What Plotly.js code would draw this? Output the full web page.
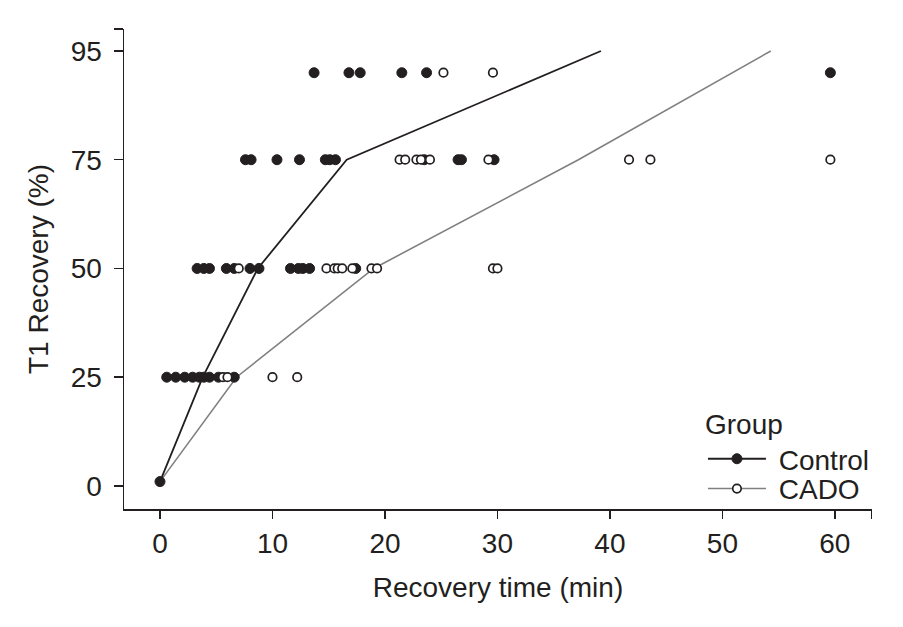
<!DOCTYPE html>
<html>
<head>
<meta charset="utf-8">
<script src="https://cdn.plot.ly/plotly-3.0.1.min.js"></script>
<style>html,body{margin:0;padding:0;background:#fff;}#chart{width:903px;height:627px;}</style>
</head>
<body>
<div id="chart"></div>
<script>
// Recovery time (min) at each T1 recovery level
const ctrl0  = [0];
const ctrl25 = [0.6, 1.4, 2.2, 2.9, 3.5, 3.9, 4.4, 5.2, 6.6];
const cado25 = [5.6, 6.0, 10.0, 12.2];
const ctrl50 = [3.3, 3.9, 4.4, 5.9, 6.6, 8.0, 8.8, 11.6, 12.3, 12.7, 13.3, 17.4];
const cado50 = [7.0, 14.8, 15.5, 15.8, 16.2, 17.1, 18.8, 19.3, 29.6, 30.0];
const ctrl75 = [7.6, 8.1, 10.4, 12.4, 14.7, 15.1, 15.6, 23.5, 26.5, 26.8, 29.7];
const cado75 = [21.3, 21.8, 22.8, 23.2, 24.0, 29.2, 41.7, 43.6, 59.6];
const ctrl95 = [13.7, 16.8, 17.8, 21.5, 23.7, 59.6];
const cado95 = [25.2, 29.6];
const level0 = 1, level25 = 25, level50 = 50, level75 = 75, level95 = 95;

// Fitted curves
const ctrlLineX = [0, 3.8, 8.7, 16.6, 39.2];
const ctrlLineY = [1, 25, 50, 75, 100];
const cadoLineX = [0, 6.8, 19.0, 37.2, 54.3];
const cadoLineY = [1, 25, 50, 75, 100];

// Axis ticks
const xTickVals = [0, 10, 20, 30, 40, 50, 60, 63.25];
const xTickText = ['0', '10', '20', '30', '40', '50', '60', ''];
const yTickVals = [0, 25, 50, 75, 100, 105];
const yTickText = ['0', '25', '50', '75', '95', ''];

// Legend labels
const groupTitle = 'Group';
const seriesNames = ['\u00a0Control', '\u00a0CADO'];

const DARK = '#231f20';
const GRAY = '#808080';

function expand(xs, level) { return {x: xs, y: xs.map(() => level)}; }
function concat(parts) {
  const out = {x: [], y: []};
  parts.forEach(p => { out.x.push(...p.x); out.y.push(...p.y); });
  return out;
}
const ctrlPts = concat([expand(ctrl0, level0), expand(ctrl25, level25), expand(ctrl50, level50), expand(ctrl75, level75), expand(ctrl95, level95)]);
const cadoPts = concat([expand(cado25, level25), expand(cado50, level50), expand(cado75, level75), expand(cado95, level95)]);

const ctrlMarker = {symbol: 'circle', size: 10, color: DARK, line: {color: DARK, width: 1}};
const cadoMarker = {symbol: 'circle', size: 8.5, color: '#ffffff', line: {color: DARK, width: 1.7}};

const traces = [
  {x: cadoLineX, y: cadoLineY, mode: 'lines', line: {color: GRAY, width: 1.6}, showlegend: false, hoverinfo: 'skip'},
  {x: ctrlLineX, y: ctrlLineY, mode: 'lines', line: {color: DARK, width: 1.8}, showlegend: false, hoverinfo: 'skip'},
  {x: ctrlPts.x, y: ctrlPts.y, mode: 'markers', marker: ctrlMarker, showlegend: false},
  {x: cadoPts.x, y: cadoPts.y, mode: 'markers', marker: cadoMarker, showlegend: false},
  {x: [null], y: [null], mode: 'lines+markers', name: seriesNames[0], legend: 'legend', line: {color: DARK, width: 1.8}, marker: ctrlMarker},
  {x: [null], y: [null], mode: 'lines+markers', name: seriesNames[1], legend: 'legend2', line: {color: GRAY, width: 1.6}, marker: cadoMarker}
];

const font = {family: 'Liberation Sans, Arial, sans-serif', size: 28, color: '#231f20'};

const layout = {
  width: 903, height: 627,
  margin: {l: 124, r: 31, t: 29, b: 118},
  paper_bgcolor: '#ffffff', plot_bgcolor: '#ffffff',
  font: font,
  showlegend: true,
  xaxis: {
    range: [-3.2, 63.3], showgrid: false, zeroline: false,
    showline: true, linecolor: DARK, linewidth: 1.5,
    ticks: 'outside', ticklen: 8, tickwidth: 1.5, tickcolor: DARK,
    tickmode: 'array', tickvals: xTickVals, ticktext: xTickText,
    tickfont: font, ticklabelstandoff: 1,
    title: {text: 'Recovery time (min)', font: font, standoff: 19}
  },
  yaxis: {
    range: [-5.3, 105.05], showgrid: false, zeroline: false,
    showline: true, linecolor: DARK, linewidth: 1.5,
    ticks: 'outside', ticklen: 9, tickwidth: 1.5, tickcolor: DARK,
    tickmode: 'array', tickvals: yTickVals, ticktext: yTickText,
    tickfont: font, ticklabelstandoff: 6,
    title: {text: 'T1 Recovery (%)', font: font, standoff: 14}
  },
  legend: {
    x: 0.774, y: 0.232, xanchor: 'left', yanchor: 'top',
    bgcolor: 'rgba(0,0,0,0)', borderwidth: 0,
    title: {text: groupTitle, font: font},
    font: font, itemwidth: 58
  },
  legend2: {
    x: 0.774, y: 0.042, xanchor: 'left', yanchor: 'middle',
    bgcolor: 'rgba(0,0,0,0)', borderwidth: 0,
    font: font, itemwidth: 58
  }
};

Plotly.newPlot('chart', traces, layout, {displayModeBar: false, staticPlot: true});
</script>
</body>
</html>
